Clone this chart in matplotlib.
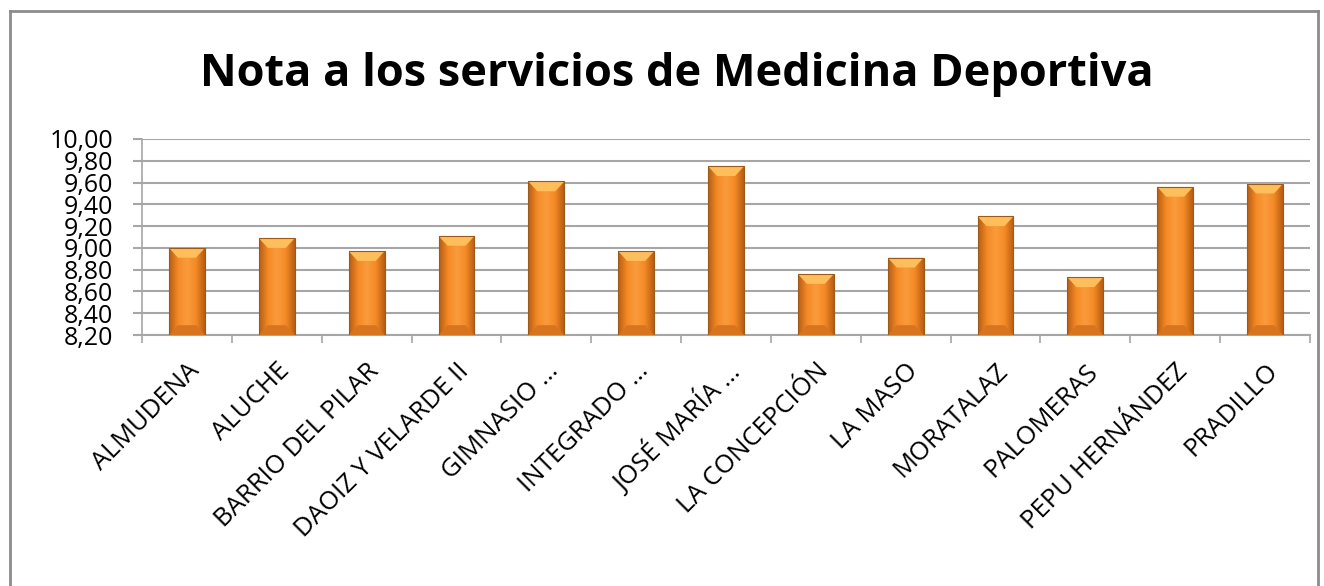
import matplotlib
matplotlib.use('Agg')
import matplotlib.pyplot as plt
import numpy as np
from matplotlib.colors import LinearSegmentedColormap
from matplotlib.patches import Polygon
from matplotlib.lines import Line2D
from matplotlib.ticker import FixedLocator

plt.rcParams['font.family'] = ['Open Sans', 'DejaVu Sans']

# data
centros = ['ALMUDENA', 'ALUCHE', 'BARRIO DEL PILAR', 'DAOIZ Y VELARDE II',
           'GIMNASIO …', 'INTEGRADO …', 'JOSÉ MARÍA …', 'LA CONCEPCIÓN',
           'LA MASO', 'MORATALAZ', 'PALOMERAS', 'PEPU HERNÁNDEZ', 'PRADILLO']
notas = [9.00, 9.09, 8.97, 9.11, 9.61, 8.97, 9.75, 8.76, 8.91, 9.29, 8.73, 9.56, 9.59]
yticks = [8.2, 8.4, 8.6, 8.8, 9.0, 9.2, 9.4, 9.6, 9.8, 10.0]

fig = plt.figure(figsize=(13.24, 5.86), dpi=100)
ax = fig.add_axes([0.1073, 0.4283, 0.8821, 0.3345])

x = np.arange(len(centros))
bars = ax.bar(x, notas, width=0.4, bottom=0, color='#F7922F',
              edgecolor='#9C5A1A', linewidth=0.8, zorder=3)

# fake bevel: horizontal gradient clipped to each bar + lighter top cap + dark foot
cmap = LinearSegmentedColormap.from_list('bev', ['#B85E14', '#F48A26', '#FA9B3C', '#F48A26', '#B85E14'])
grad = np.linspace(0, 1, 64).reshape(1, -1)
for b in bars:
    x0, w, h = b.get_x(), b.get_width(), b.get_height()
    im = ax.imshow(grad, cmap=cmap, aspect='auto', extent=[x0, x0 + w, 8.2, h],
                   zorder=3, interpolation='bicubic')
    im.set_clip_path(b)
    d = 0.09
    cap = Polygon([[x0, h], [x0 + w, h], [x0 + w - w * 0.25, h - d], [x0 + w * 0.25, h - d]],
                  closed=True, facecolor='#FFBE5C', edgecolor='none', zorder=4)
    ax.add_patch(cap)
    foot = Polygon([[x0, 8.2], [x0 + w, 8.2], [x0 + w - w * 0.25, 8.2 + d], [x0 + w * 0.25, 8.2 + d]],
                   closed=True, facecolor='#D9741E', edgecolor='none', zorder=4)
    ax.add_patch(foot)
    b.set_facecolor('none')
    b.set_zorder(5)

ax.set_ylim(8.2, 10.0)
ax.set_xlim(-0.5, len(centros) - 0.5)
ax.set_yticks(yticks)
ax.set_yticklabels([('%.2f' % v).replace('.', ',') for v in yticks], fontsize=18)
ax.yaxis.grid(True, color='#A6A6A6', linewidth=1.5, zorder=0)
ax.tick_params(axis='y', length=6.5, width=1.5, color='#A6A6A6', pad=14.5)

ax.set_xticks(x)
ax.set_xticklabels(centros, rotation=45, ha='right', rotation_mode='anchor', fontsize=18.5)
ax.xaxis.set_minor_locator(FixedLocator(np.arange(-0.5, len(centros), 1.0)))
ax.tick_params(axis='x', which='major', length=0, pad=17)
ax.tick_params(axis='x', which='minor', length=6, width=1.2, color='#A6A6A6')

for s in ['top', 'right']:
    ax.spines[s].set_visible(False)
ax.spines['left'].set_color('#A6A6A6')
ax.spines['left'].set_linewidth(1.2)
ax.spines['bottom'].set_color('#A6A6A6')
ax.spines['bottom'].set_linewidth(1.5)
ax.set_axisbelow(True)

fig.text(0.511, 1 - 86 / 586, 'Nota a los servicios de Medicina Deportiva', ha='center', va='baseline',
         fontsize=32.5, fontweight='bold')

# outer chart frame
fx0, fx1, fy1 = 10 / 1324, 1318 / 1324, 1 - 11 / 586
for xs, ys in [([fx0, fx1], [fy1, fy1]), ([fx0, fx0], [0, fy1]), ([fx1, fx1], [0, fy1])]:
    fig.add_artist(Line2D(xs, ys, color='#8C8C8C', linewidth=2, transform=fig.transFigure))

fig.savefig('out.png', dpi=100)
